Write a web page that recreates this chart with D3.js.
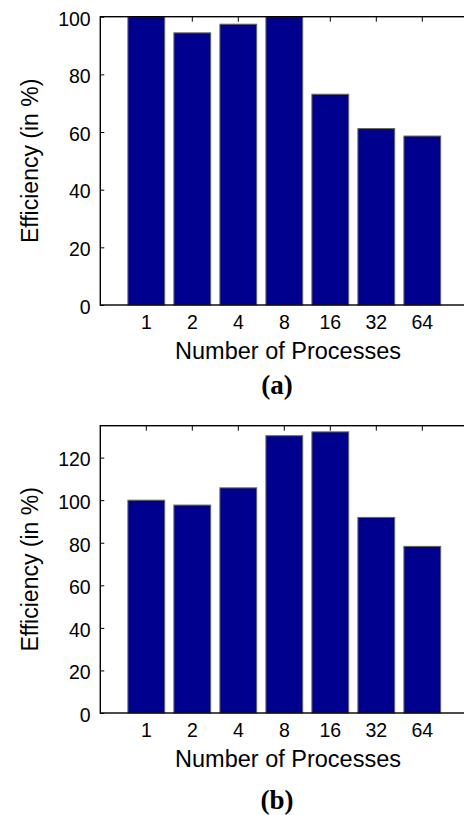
<!DOCTYPE html>
<html>
<head>
<meta charset="utf-8">
<script src="https://cdn.jsdelivr.net/npm/d3@7"></script>
<style>
  html, body { margin: 0; padding: 0; background: #fff; }
  svg { display: block; }
</style>
</head>
<body>
<div id="chart"></div>
<script>
const processes = ['1', '2', '4', '8', '16', '32', '64'];
const efficiencyA = [100, 94.4, 97.4, 100, 73.1, 61.2, 58.6];
const efficiencyB = [100, 97.7, 105.8, 130.3, 132.1, 91.9, 78.3];
const ticksA = [0, 20, 40, 60, 80, 100];
const ticksB = [0, 20, 40, 60, 80, 100, 120];

const W = 464, H = 815;
const left = 100.3, right = 468.3;

const svg = d3.select('#chart')
  .append('svg')
  .attr('width', W)
  .attr('height', H);

function drawPanel(values, yMax, ticks, caption, top, bottom, capDy) {
  const g = svg.append('g');

  const x = d3.scaleBand().domain(processes).range([left, right])
    .paddingInner(0.2).paddingOuter(0.6);
  const y = d3.scaleLinear().domain([0, yMax]).range([bottom, top]);

  // inward ticks, MATLAB style
  const yAxisG = g.append('g').attr('transform', `translate(${left},0)`)
    .call(d3.axisLeft(y).tickValues(ticks).tickSizeInner(-4).tickSizeOuter(0).tickPadding(9.6));
  yAxisG.select('.domain').remove();
  yAxisG.selectAll('line').attr('stroke', '#000');
  yAxisG.selectAll('text').attr('dy', null).attr('y', 8.3)
    .attr('font-family', '"Liberation Sans", Arial, sans-serif').attr('font-size', 19.5).attr('fill', '#000');

  const topAxisG = g.append('g').attr('transform', `translate(0,${top})`)
    .call(d3.axisTop(x).tickSizeInner(-5).tickSizeOuter(0).tickFormat(''));
  topAxisG.select('.domain').remove();
  topAxisG.selectAll('line').attr('stroke', '#000');

  g.selectAll('rect.bar')
    .data(values)
    .join('rect')
    .attr('class', 'bar')
    .attr('x', (d, i) => x(processes[i]))
    .attr('width', x.bandwidth())
    .attr('y', (d) => y(Math.min(d, yMax)))
    .attr('height', (d) => bottom - y(Math.min(d, yMax)))
    .attr('fill', '#00008F')
    .attr('stroke', '#666')
    .attr('stroke-width', 1);

  const xAxisG = g.append('g').attr('transform', `translate(0,${bottom})`)
    .call(d3.axisBottom(x).tickSize(0));
  xAxisG.select('.domain').remove();
  xAxisG.selectAll('text').attr('dy', null).attr('y', 23.6)
    .attr('font-family', '"Liberation Sans", Arial, sans-serif').attr('font-size', 19.5).attr('fill', '#000');

  // frame
  g.append('rect')
    .attr('x', left).attr('y', top)
    .attr('width', right - left).attr('height', bottom - top)
    .attr('fill', 'none').attr('stroke', '#000').attr('stroke-width', 1.4);

  g.append('text')
    .attr('transform', `translate(37.5,${(top + bottom) / 2}) rotate(-90)`)
    .attr('text-anchor', 'middle')
    .attr('font-family', '"Liberation Sans", Arial, sans-serif').attr('font-size', 23)
    .text('Efficiency (in %)');

  g.append('text')
    .attr('x', 288).attr('y', bottom + 54)
    .attr('text-anchor', 'middle')
    .attr('font-family', '"Liberation Sans", Arial, sans-serif').attr('font-size', 23.5)
    .text('Number of Processes');

  g.append('text')
    .attr('x', 277).attr('y', bottom + capDy)
    .attr('text-anchor', 'middle')
    .attr('font-family', '"Liberation Serif", "Times New Roman", serif')
    .attr('font-weight', 'bold').attr('font-size', 27)
    .text(caption);
}

drawPanel(efficiencyA, 100, ticksA, '(a)', 16.7, 305, 89);
drawPanel(efficiencyB, 135, ticksB, '(b)', 425.7, 713, 96);
</script>
</body>
</html>
